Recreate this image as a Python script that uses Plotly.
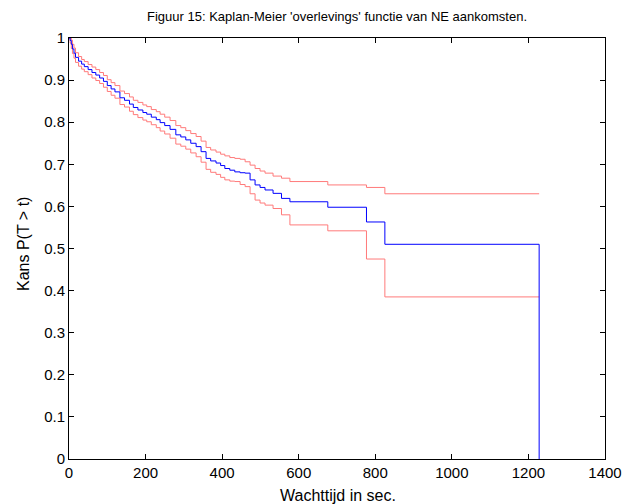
import plotly.graph_objects as go

# Step times (seconds)
t = [0, 3, 6, 9, 13, 17, 25, 33, 40, 50,
     60, 70, 80, 90, 100, 110, 120, 133, 145, 158,
     168, 180, 193, 203, 215, 228, 238, 250, 264, 279,
     292, 305, 318, 332, 345, 358, 370, 384, 396, 407,
     420, 433, 447, 460, 473, 486, 499, 512, 533, 555,
     577, 676, 777, 825, 1228]

# Kaplan-Meier estimate
surv = [1, 0.994, 0.985, 0.974, 0.964, 0.954, 0.945, 0.938, 0.932, 0.925,
        0.918, 0.912, 0.905, 0.897, 0.887, 0.879, 0.872, 0.858, 0.852, 0.843,
        0.835, 0.829, 0.823, 0.819, 0.812, 0.806, 0.799, 0.792, 0.783, 0.770,
        0.765, 0.758, 0.750, 0.742, 0.730, 0.714, 0.708, 0.703, 0.697, 0.690,
        0.686, 0.682, 0.680, 0.679, 0.663, 0.651, 0.645, 0.639, 0.631, 0.619,
        0.611, 0.598, 0.563, 0.510, 0.0]

# Upper confidence bound
upper = [1, 1.0, 0.995, 0.985, 0.976, 0.965, 0.956, 0.949, 0.944, 0.937,
         0.931, 0.925, 0.918, 0.911, 0.901, 0.894, 0.887, 0.874, 0.868, 0.860,
         0.852, 0.847, 0.841, 0.837, 0.830, 0.825, 0.819, 0.812, 0.804, 0.792,
         0.787, 0.780, 0.773, 0.766, 0.755, 0.740, 0.734, 0.729, 0.724, 0.720,
         0.716, 0.714, 0.712, 0.706, 0.698, 0.690, 0.684, 0.679, 0.672, 0.667,
         0.659, 0.651, 0.645, 0.630, 0.630]

# Lower confidence bound
lower = [1, 0.988, 0.975, 0.963, 0.952, 0.942, 0.933, 0.926, 0.920, 0.913,
         0.905, 0.899, 0.892, 0.883, 0.873, 0.864, 0.857, 0.842, 0.836, 0.826,
         0.818, 0.811, 0.805, 0.801, 0.794, 0.787, 0.779, 0.772, 0.762, 0.748,
         0.743, 0.736, 0.727, 0.718, 0.705, 0.688, 0.681, 0.676, 0.669, 0.663,
         0.660, 0.659, 0.652, 0.647, 0.630, 0.615, 0.608, 0.603, 0.595, 0.580,
         0.556, 0.542, 0.475, 0.385, 0.385]

x_ticks = [0, 200, 400, 600, 800, 1000, 1200, 1400]
y_ticks = [0, 0.1, 0.2, 0.3, 0.4, 0.5, 0.6, 0.7, 0.8, 0.9, 1]
y_ticktext = ["0", "0.1", "0.2", "0.3", "0.4", "0.5", "0.6", "0.7", "0.8", "0.9", "1"]

title = "Figuur 15: Kaplan-Meier 'overlevings' functie van NE aankomsten."
xlabel = "Wachttijd in sec."
ylabel = "Kans P(T > t)"

FONT = "Liberation Sans, Arial, sans-serif"

fig = go.Figure()
fig.add_trace(go.Scatter(x=t, y=upper, mode="lines", line=dict(color="#ff7a7a", width=1, shape="hv"),
                         showlegend=False))
fig.add_trace(go.Scatter(x=t, y=lower, mode="lines", line=dict(color="#ff7a7a", width=1, shape="hv"),
                         showlegend=False))
fig.add_trace(go.Scatter(x=t, y=surv, mode="lines", line=dict(color="#0000ff", width=1, shape="hv"),
                         showlegend=False))

axis_common = dict(
    showgrid=False, zeroline=False, showline=True, linecolor="black", linewidth=1,
    mirror="ticks", ticks="inside", ticklen=5, tickcolor="black", tickwidth=1,
    tickfont=dict(family=FONT, size=15, color="black"),
)

fig.update_xaxes(range=[0, 1400], tickvals=x_ticks, ticktext=[str(v) for v in x_ticks], **axis_common)
fig.update_yaxes(range=[0, 1], tickvals=y_ticks, ticktext=y_ticktext, **axis_common)

plot_h = 504 - 38 - 45
plot_w = 636 - 69 - 31

fig.update_layout(
    width=636, height=504,
    margin=dict(l=69, r=31, t=38, b=45),
    paper_bgcolor="white", plot_bgcolor="white",
    font=dict(family=FONT, size=15, color="black"),
    annotations=[
        dict(text=title, x=(337 - 69) / plot_w, y=(459 - 16) / plot_h, xref="paper", yref="paper",
             showarrow=False, xanchor="center", yanchor="middle",
             font=dict(family=FONT, size=13, color="black")),
        dict(text=xlabel, x=(338 - 69) / plot_w, y=(459 - 495) / plot_h, xref="paper", yref="paper",
             showarrow=False, xanchor="center", yanchor="middle",
             font=dict(family=FONT, size=16, color="black")),
        dict(text=ylabel, x=(24 - 69) / plot_w, y=(459 - 244) / plot_h, xref="paper", yref="paper",
             showarrow=False, textangle=-90, xanchor="center", yanchor="middle",
             font=dict(family=FONT, size=16, color="black")),
    ],
)

fig.write_html("out.html")
